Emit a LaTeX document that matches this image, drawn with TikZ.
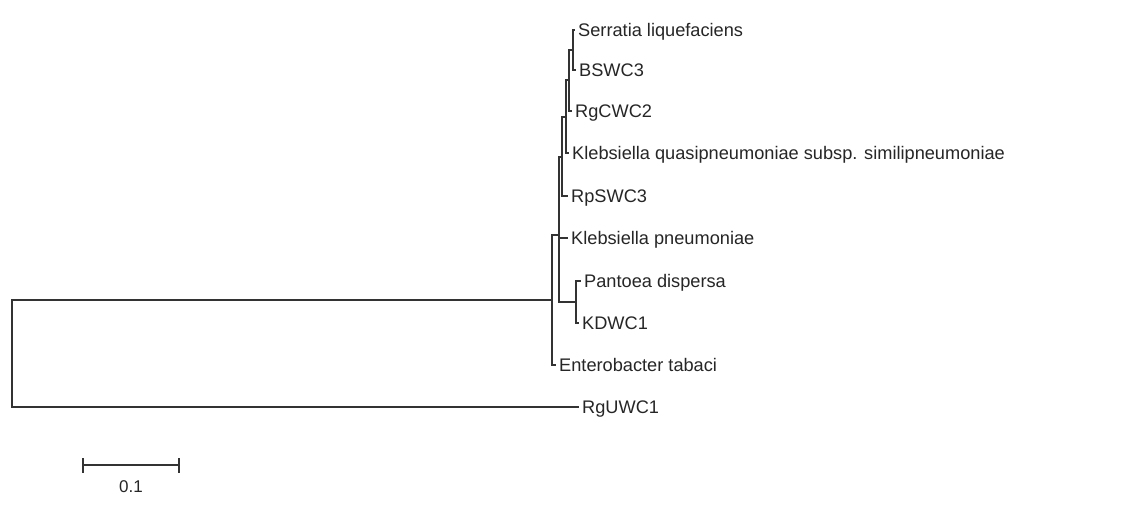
\documentclass[tikz,border=0pt]{standalone}
\usepackage{fontspec}
\setmainfont{Liberation Sans}
\begin{document}
\begin{tikzpicture}[x=1pt,y=-1pt,
  branch/.style={draw=black!80, line width=1.2pt, line cap=rect},
  taxon/.style={anchor=base west, inner sep=0pt, xshift=4pt, yshift=-6.5pt,
    text=black!85, font=\fontsize{18.2}{20}\selectfont},
  scalelbl/.style={inner sep=0pt, text=black!85, font=\fontsize{17}{19}\selectfont}]
\useasboundingbox[fill=white] (0,0) rectangle (1134,504);
% internal nodes
\coordinate (root) at (12,300);
\coordinate (G) at (552,300);
\coordinate (E) at (559,235);
\coordinate (D) at (562,157);
\coordinate (C) at (566,117);
\coordinate (B) at (569,80);
\coordinate (A) at (573,50);
\coordinate (F) at (576,302);
% leaves
\coordinate (serr) at (574,30);
\coordinate (bswc) at (575,70);
\coordinate (rgcwc) at (571,111);
\coordinate (klq) at (568,153);
\coordinate (rpswc) at (567,196);
\coordinate (klp) at (567,238);
\coordinate (pant) at (580,281);
\coordinate (kdwc) at (578,323);
\coordinate (ent) at (555,365);
\coordinate (rguwc) at (578,407);
% branches
\draw[branch] (root) |- (G);
\draw[branch] (root) |- (rguwc);
\draw[branch] (G) |- (E);
\draw[branch] (G) |- (ent);
\draw[branch] (E) |- (D);
\draw[branch] (E) |- (klp);
\draw[branch] (E) |- (F);
\draw[branch] (D) |- (C);
\draw[branch] (D) |- (rpswc);
\draw[branch] (C) |- (B);
\draw[branch] (C) |- (klq);
\draw[branch] (B) |- (A);
\draw[branch] (B) |- (rgcwc);
\draw[branch] (A) |- (serr);
\draw[branch] (A) |- (bswc);
\draw[branch] (F) |- (pant);
\draw[branch] (F) |- (kdwc);
% labels
\node[taxon] (lserr) at (serr) {Serratia liquefaciens};
\node[taxon] (lbswc) at (bswc) {BSWC3};
\node[taxon] (lrgcwc) at (rgcwc) {RgCWC2};
\node[taxon] (lklq) at (klq) {Klebsiella quasipneumoniae subsp. similipneumoniae};
\node[taxon] (lrpswc) at (rpswc) {RpSWC3};
\node[taxon] (lklp) at (klp) {Klebsiella pneumoniae};
\node[taxon] (lpant) at (pant) {Pantoea dispersa};
\node[taxon] (lkdwc) at (kdwc) {KDWC1};
\node[taxon] (lent) at (ent) {Enterobacter tabaci};
\node[taxon] (lrguwc) at (rguwc) {RgUWC1};
% scale bar
\coordinate (sb1) at (83,465);
\coordinate (sb2) at (179,465);
\draw[branch, line cap=butt] (sb1) -- (sb2);
\draw[branch, line cap=butt] ([yshift=7pt]sb1) -- ([yshift=-8pt]sb1);
\draw[branch, line cap=butt] ([yshift=7pt]sb2) -- ([yshift=-8pt]sb2);
\node[scalelbl] (sblbl) at (131,487) {0.1};
\end{tikzpicture}
\end{document}
